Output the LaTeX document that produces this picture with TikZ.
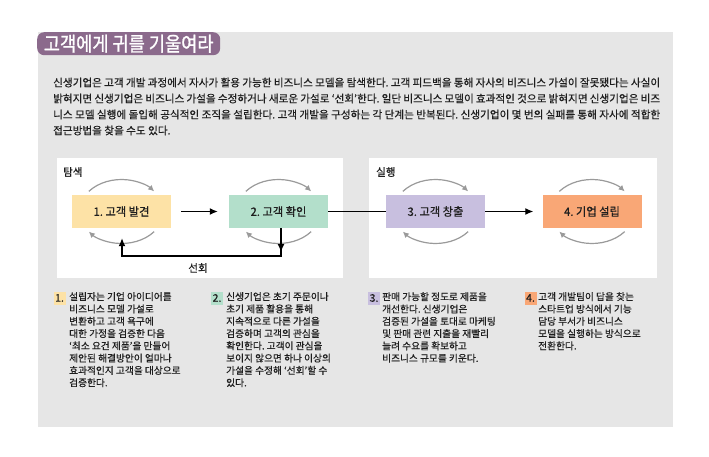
\documentclass[tikz,border=0pt]{standalone}
\usepackage{fontspec}
\setmainfont{Noto Sans CJK KR}
\newfontfamily\titlefont[FakeStretch=0.88,FakeBold=1.2]{Noto Sans CJK KR}
\newfontfamily\krfont[FakeBold=0.5]{Noto Sans CJK KR}
\newfontfamily\descfont[FakeBold=0.5]{Noto Sans CJK KR}
\newfontfamily\boxfontfam[FakeStretch=0.97,FakeBold=0.6]{Noto Sans CJK KR}
\usetikzlibrary{arrows.meta}
\definecolor{panelgray}{HTML}{E6E6E6}
\definecolor{titlepurple}{HTML}{8B6A8C}
\definecolor{txt}{HTML}{1E1E1E}
\definecolor{arcgray}{HTML}{9A9A9A}
\definecolor{cone}{HTML}{FDE2A6}
\definecolor{ctwo}{HTML}{B3DFCB}
\definecolor{cthree}{HTML}{C8BFDF}
\definecolor{cfour}{HTML}{F9A776}
\frenchspacing
\begin{document}
\frenchspacing
\begin{tikzpicture}[x=1pt,y=1pt,
  stage/.style={minimum width=99pt, minimum height=33pt, inner sep=0pt, text=txt,
    font=\boxfontfam\fontsize{11.6}{13}\selectfont},
  cyc/.style={draw=arcgray, line width=1.2pt, -{Latex[length=6pt,width=6pt]}},
  conn/.style={draw=black, line width=1.3pt},
  arr/.style={conn, -{Latex[length=8pt,width=7pt]}},
  bodyline/.style={anchor=base west, inner sep=0pt, text=txt, font=\krfont\fontsize{10.6}{16}\selectfont\frenchspacing},
  desc/.style={anchor=north west, inner sep=0pt, align=left, text=txt, font=\descfont\fontsize{9.7}{12.3}\selectfont\frenchspacing},
  marker/.style={inner sep=0pt, minimum width=12pt, minimum height=13pt, text=txt, font=\descfont\fontsize{10.5}{12}\selectfont},
  lab/.style={inner sep=0pt, text=txt, font=\boxfontfam\fontsize{10.8}{12}\selectfont}
]
\useasboundingbox (0,0) rectangle (709,-457);
\fill[white] (0,0) rectangle (709,-457);
% panels
\fill[panelgray] (38,-32) rectangle (673,-427);
\fill[white] (57,-158) rectangle (343,-278);
\fill[white] (369,-158) rectangle (657,-278);
% title
\node[fill=titlepurple, rounded corners=7pt, minimum width=183pt, minimum height=23pt, inner sep=0pt,
  anchor=north west, text=white, font=\titlefont\fontsize{20}{21}\selectfont] (title) at (37,-32) {고객에게 귀를 기울여라};
% body text
\node[bodyline] (l1) at (53,-86.5) {\makebox[607pt][s]{신생기업은 고객 개발 과정에서 자사가 활용 가능한 비즈니스 모델을 탐색한다. 고객 피드백을 통해 자사의 비즈니스 가설이 잘못됐다는 사실이}};
\node[bodyline] (l2) at (53,-102.5) {\makebox[607pt][s]{밝혀지면 신생기업은 비즈니스 가설을 수정하거나 새로운 가설로 ‘선회’한다. 일단 비즈니스 모델이 효과적인 것으로 밝혀지면 신생기업은 비즈}};
\node[bodyline] (l3) at (53,-118.5) {\makebox[607pt][s]{니스 모델 실행에 돌입해 공식적인 조직을 설립한다. 고객 개발을 구성하는 각 단계는 반복된다. 신생기업이 몇 번의 실패를 통해 자사에 적합한}};
\node[bodyline] (l4) at (53,-134.5) {접근방법을 찾을 수도 있다.};
% phase labels
\node[lab, anchor=west] (explore) at (63,-172) {탐색};
\node[lab, anchor=west] (execute) at (376,-172) {실행};
% stages
\node[stage, fill=cone] (b1) at (121.5,-211.5) {1. 고객 발견};
\node[stage, fill=ctwo] (b2) at (278.5,-211.5) {2. 고객 확인};
\node[stage, fill=cthree] (b3) at (435.5,-211.5) {3. 고객 창출};
\node[stage, fill=cfour] (b4) at (592,-211.5) {4. 기업 설립};
% cycle arcs
\foreach \b in {b1,b2,b3,b4}{
  \draw[cyc] ([shift={(141:42pt and 32pt)}]\b.center) arc[start angle=141, end angle=39, x radius=42pt, y radius=32pt];
  \draw[cyc] ([shift={(-39:42pt and 32pt)}]\b.center) arc[start angle=-39, end angle=-141, x radius=42pt, y radius=32pt];
}
% connectors
\draw[arr, shorten <=10pt, shorten >=11pt] (b1.east) -- (b2.west);
\draw[conn] (b2.east) -- (b3.west);
\draw[arr, shorten >=9pt] (b3.east) -- (b4.west);
\coordinate (fbR) at (281,-256);
\coordinate (fbL) at (122,-256);
\draw[arr] (b2.south -| fbR) -- ([yshift=4pt]fbR);
\draw[arr, shorten >=10pt] (b2.south -| fbR) -- (fbR) -- (fbL) -- (b1.south -| fbL);
\node[lab] (pivot) at (198,-268) {선회};
% descriptions
\node[marker, fill=cone] (m1) at (59.5,-298) {1.};
\node[desc] (d1) at (69,-292) {설립자는 기업 아이디어를\\비즈니스 모델 가설로\\변환하고 고객 욕구에\\대한 가정을 검증한 다음\\‘최소 요건 제품’을 만들어\\제안된 해결방안이 얼마나\\효과적인지 고객을 대상으로\\검증한다.};
\node[marker, fill=ctwo] (m2) at (217,-298) {2.};
\node[desc] (d2) at (226,-292) {신생기업은 초기 주문이나\\초기 제품 활용을 통해\\지속적으로 다른 가설을\\검증하며 고객의 관심을\\확인한다. 고객이 관심을\\보이지 않으면 하나 이상의\\가설을 수정해 ‘선회’할 수\\있다.};
\node[marker, fill=cthree] (m3) at (374,-298) {3.};
\node[desc] (d3) at (382,-292) {판매 가능할 정도로 제품을\\개선한다. 신생기업은\\검증된 가설을 토대로 마케팅\\및 판매 관련 지출을 재빨리\\늘려 수요를 확보하고\\비즈니스 규모를 키운다.};
\node[marker, fill=cfour] (m4) at (530.5,-298) {4.};
\node[desc] (d4) at (538,-292) {고객 개발팀이 답을 찾는\\스타트업 방식에서 기능\\담당 부서가 비즈니스\\모델을 실행하는 방식으로\\전환한다.};
\end{tikzpicture}
\end{document}
